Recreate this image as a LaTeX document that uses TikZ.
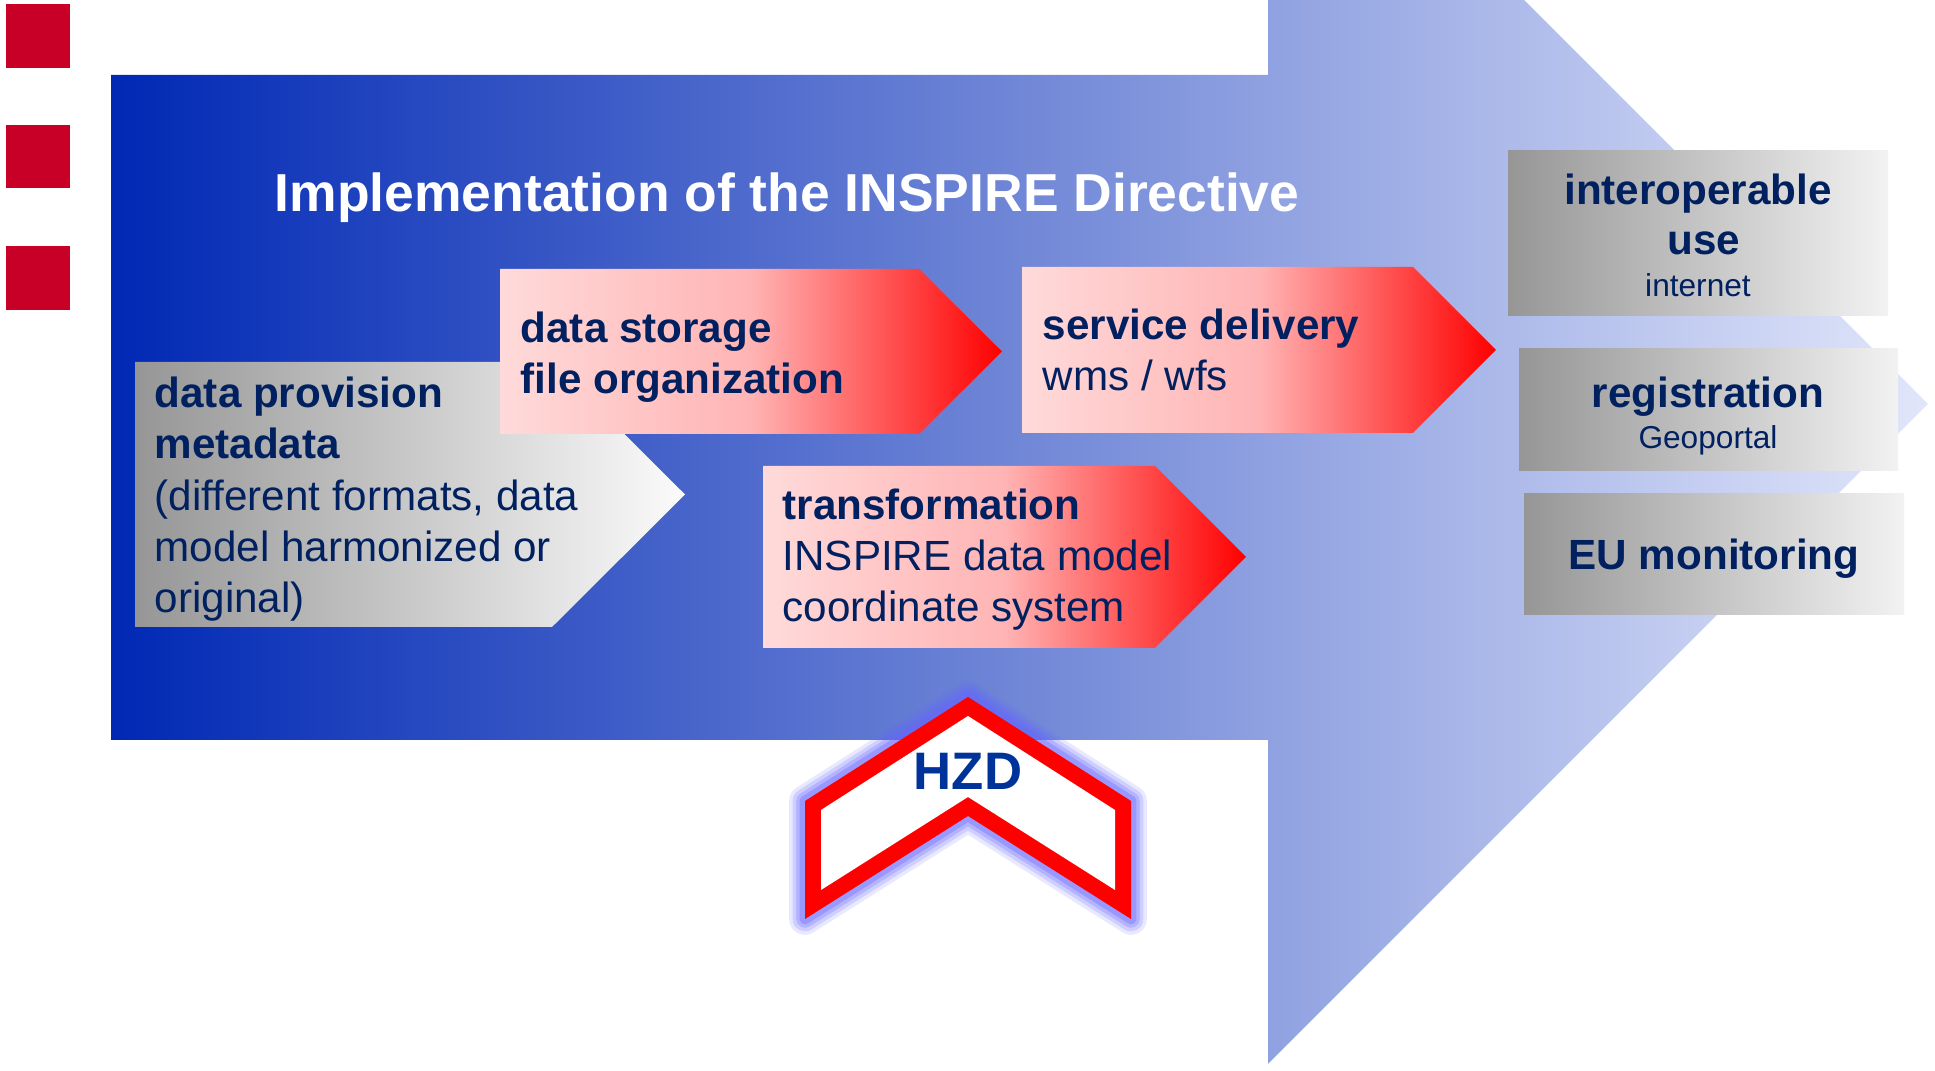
\documentclass[tikz,border=0pt]{standalone}
\usepackage{fontspec}
\setmainfont{Liberation Sans}
\definecolor{bluedark}{RGB}{0,40,180}
\definecolor{bluelight}{RGB}{225,230,250}
\definecolor{navy}{RGB}{0,32,96}
\definecolor{hzdblue}{RGB}{0,51,153}
\definecolor{sqred}{RGB}{200,0,40}
\definecolor{grayL}{RGB}{150,150,150}
\definecolor{grayR}{RGB}{242,242,242}
\definecolor{pinkL}{RGB}{255,218,218}
\definecolor{pinkM}{RGB}{255,180,180}
\definecolor{glowblue}{RGB}{100,100,255}
\pgfdeclarehorizontalshading{redfade}{100bp}{color(0bp)=(pinkL); color(25bp)=(pinkL); color(50bp)=(pinkM); color(75bp)=(red); color(100bp)=(red)}
\tikzstyle{redbox}=[shading=redfade]
\tikzstyle{graybox}=[left color=grayL, right color=grayR]
\tikzstyle{boldtxt}=[font=\fontsize{12}{14.6}\selectfont\bfseries, text=navy, inner sep=0pt]
\tikzstyle{plaintxt}=[font=\fontsize{12}{14.6}\selectfont, text=navy, inner sep=0pt]
\tikzstyle{smalltxt}=[font=\fontsize{9}{11}\selectfont, text=navy, inner sep=0pt]
\tikzstyle{glow}=[draw=glowblue, line join=round]

\begin{document}
\begin{tikzpicture}[x=0.01cm, y=-0.01cm]
    \useasboundingbox (0,0) rectangle (1935,1071);
%    red squares
    \fill[sqred] (6,4)   rectangle (70,68);
    \fill[sqred] (6,125) rectangle (70,188);
    \fill[sqred] (6,246) rectangle (70,310);
%    big arrow
    \begin{scope}
    \clip (0,0) rectangle (1935,1071);
    \shade[left color=bluedark, right color=bluelight] (111,75) -- (1268,75) -- (1268,-256) -- (1928,404)
        -- (1268,1064) -- (1268,740) -- (111,740) -- cycle;
    \end{scope}
    \node[font=\fontsize{15.2}{18}\selectfont\bfseries, text=white, inner sep=0pt, anchor=base west] (ttl) at (274,212) {Implementation of the INSPIRE Directive};
%    data provision (anchor on last line)
    \shade[left color=grayL, right color=white!97!gray] (135,362) -- (552,362) -- (685,494.5) -- (552,627) -- (135,627) -- cycle;
    \node[plaintxt, anchor=base west, align=left] (dp) at (154,613) {\textbf{data provision}\\\textbf{metadata}\\(different formats, data\\model harmonized or\\original)};
%    data storage
    \shade[redbox] (500,269) -- (919,269) -- (1002,351.5) -- (919,434) -- (500,434) -- cycle;
    \node[boldtxt, anchor=base west, align=left] (ds) at (520,394) {data storage\\file organization};
%    transformation
    \shade[redbox] (763,466) -- (1155,466) -- (1246,557) -- (1155,648) -- (763,648) -- cycle;
    \node[plaintxt, anchor=base west, align=left] (tf) at (782,622) {\textbf{transformation}\\INSPIRE data model\\coordinate system};
%    service delivery
    \shade[redbox] (1022,267) -- (1413,267) -- (1496,350) -- (1413,433) -- (1022,433) -- cycle;
    \node[plaintxt, anchor=base west, align=left] (sd) at (1042,391) {\textbf{service delivery}\\wms / wfs};
%    right boxes
    \shade[graybox] (1508,151) rectangle (1888,316);
    \node[boldtxt, anchor=base] (iu1) at (1698,205) {interoperable};
    \node[boldtxt, anchor=base] (iu2) at (1704,255) {use};
    \node[smalltxt, anchor=base] (iu3) at (1698,297) {internet};
    \shade[graybox] (1519,349) rectangle (1898,471);
    \node[boldtxt, anchor=base] (rg1) at (1708,408) {registration};
    \node[smalltxt, anchor=base] (rg2) at (1708,449) {Geoportal};
    \shade[graybox] (1524,494) rectangle (1904,615);
    \node[boldtxt, anchor=base] (eu) at (1714,570) {EU monitoring};
%    HZD logo
    \coordinate (ha) at (968,697);
    \coordinate (hb) at (1131,801);
    \coordinate (hc) at (1131,919);
    \coordinate (hd) at (968,816);
    \coordinate (he) at (805,919);
    \coordinate (hf) at (805,801);
    \draw[glow, line width=9pt, opacity=.15] (ha) -- (hb) -- (hc) -- (hd) -- (he) -- (hf) -- cycle;
    \draw[glow, line width=7pt, opacity=.2] (ha) -- (hb) -- (hc) -- (hd) -- (he) -- (hf) -- cycle;
    \draw[glow, line width=5pt, opacity=.25] (ha) -- (hb) -- (hc) -- (hd) -- (he) -- (hf) -- cycle;
    \draw[glow, line width=3pt, opacity=.35] (ha) -- (hb) -- (hc) -- (hd) -- (he) -- (hf) -- cycle;
    \fill[red] (ha) -- (hb) -- (hc) -- (hd) -- (he) -- (hf) -- cycle;
    \fill[white] (968,716) -- (1115,810) -- (1115,890) -- (968,797) -- (821,890) -- (821,810) -- cycle;
    \node[font=\fontsize{15}{18}\selectfont\bfseries, text=hzdblue, inner sep=0pt, anchor=base] (hzd) at (968,790) {HZD};
\end{tikzpicture}
\end{document}
